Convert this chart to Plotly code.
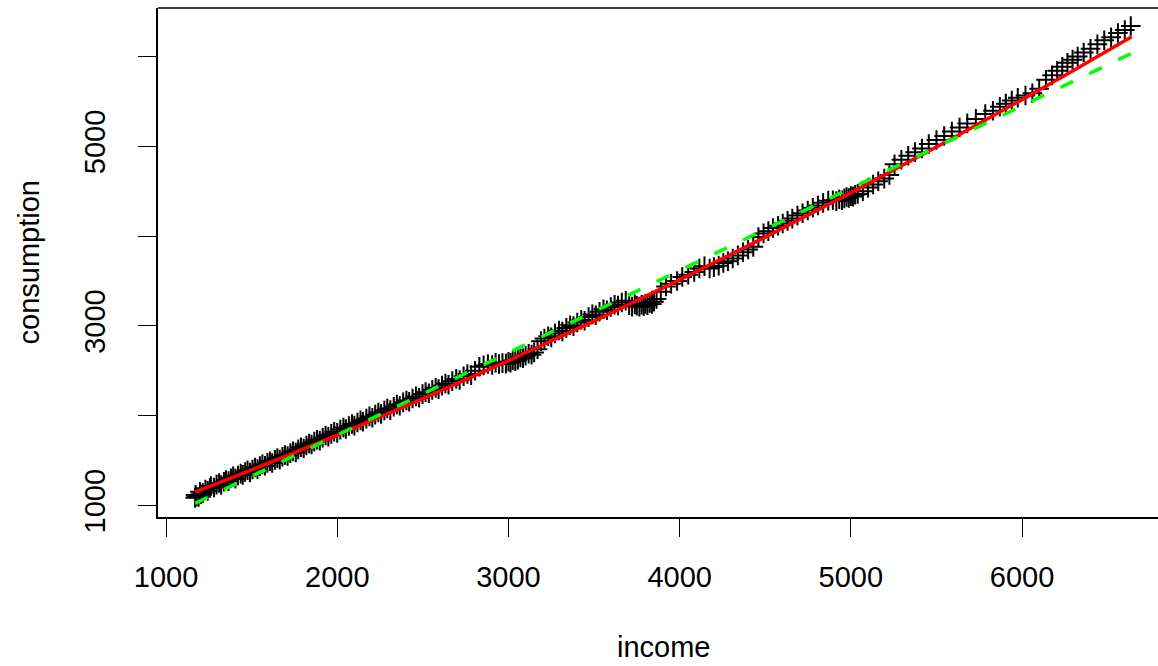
import plotly.graph_objects as go

# ---- scatter data (income, consumption) ----
income = [
    1170, 1178, 1172, 1190, 1204, 1198, 1215, 1230, 1243, 1256, 1262, 1280, 1295, 1310, 1322, 1338,
    1350, 1365, 1379, 1392, 1405, 1420, 1436, 1448, 1462, 1476, 1490, 1505, 1520, 1534, 1548, 1563,
    1578, 1592, 1607, 1620, 1636, 1650, 1664, 1680, 1695, 1710, 1726, 1742, 1758, 1772, 1788, 1804,
    1820, 1836, 1850, 1866, 1882, 1898, 1915, 1932, 1948, 1965, 1982, 2000,
    2018, 2036, 2050, 2068, 2086, 2100, 2118, 2136, 2150, 2170, 2188, 2205, 2222, 2240, 2256, 2275,
    2292, 2310, 2330, 2348, 2365, 2385, 2404, 2420, 2440, 2460, 2478, 2498, 2516, 2535, 2555, 2575,
    2592, 2612, 2632, 2650, 2672, 2695, 2715, 2738, 2760, 2782, 2805, 2830, 2855, 2880, 2905,
    2925, 2945, 2965, 2985, 3000, 3012, 3025, 3040, 3055, 3070, 3085, 3100, 3118, 3135, 3150, 3170,
    3190, 3210, 3232, 3250, 3272, 3295, 3315, 3338, 3360, 3380, 3402, 3425, 3445, 3468, 3490, 3510,
    3532, 3555, 3575, 3598, 3620, 3640, 3662, 3685,
    3705, 3722, 3738, 3750, 3765, 3778, 3790, 3800, 3812, 3825, 3838, 3850, 3865,
    3890, 3920, 3950, 3985, 4015, 4050, 4085, 4115, 4145,
    4175, 4200, 4228, 4255, 4282, 4310, 4340, 4370, 4400, 4430,
    4460, 4490, 4518, 4545, 4575, 4602, 4630, 4658, 4688, 4718, 4748, 4778, 4808, 4838, 4868,
    4895, 4915, 4932, 4948, 4962, 4975, 4988, 5000, 5012, 5025, 5040,
    5070, 5100, 5130, 5160, 5195, 5225,
    5255, 5295, 5335, 5375, 5415, 5455, 5500, 5545, 5590, 5635, 5680, 5730, 5785,
    5830, 5870, 5905, 5940, 5975, 6020, 6060, 6100,
    6140, 6175, 6205, 6235, 6265, 6295, 6325, 6360, 6400, 6440, 6480, 6520, 6560, 6600, 6635,
]
consumption = [
    1085, 1100, 1118, 1095, 1125, 1152, 1140, 1178, 1163, 1195, 1218, 1201, 1233, 1251, 1229, 1265,
    1283, 1271, 1303, 1325, 1299, 1333, 1355, 1341, 1373, 1393, 1368, 1401, 1423, 1405, 1439, 1458,
    1443, 1475, 1493, 1473, 1508, 1528, 1511, 1543, 1563, 1551, 1583, 1603, 1591, 1625, 1648, 1635,
    1668, 1691, 1679, 1711, 1733, 1723, 1755, 1779, 1765, 1798, 1821, 1809,
    1845, 1868, 1852, 1885, 1908, 1890, 1925, 1948, 1932, 1968, 1992, 1978, 2012, 2036, 2020, 2058,
    2080, 2062, 2100, 2124, 2110, 2148, 2170, 2155, 2192, 2215, 2200, 2240, 2262, 2250, 2288, 2310,
    2296, 2335, 2358, 2345, 2385, 2410, 2398, 2440, 2465, 2452, 2500, 2545, 2560, 2575, 2565,
    2590, 2575, 2585, 2580, 2600, 2590, 2615, 2608, 2625, 2650, 2640, 2668, 2690, 2680, 2705, 2740,
    2830, 2860, 2885, 2872, 2915, 2948, 2938, 2978, 3008, 2998, 3038, 3068, 3058, 3098, 3128, 3118,
    3158, 3185, 3175, 3210, 3235, 3228, 3260, 3280,
    3230, 3215, 3240, 3225, 3215, 3235, 3220, 3245, 3230, 3255, 3245, 3270, 3300,
    3380, 3440, 3470, 3500, 3545, 3570, 3600, 3640, 3665,
    3640, 3655, 3670, 3700, 3720, 3750, 3785, 3820, 3850, 3880,
    3990, 4030, 4055, 4090, 4115, 4140, 4170, 4195, 4230, 4255, 4285, 4315, 4340, 4370, 4395,
    4400, 4390, 4410, 4400, 4420, 4435, 4425, 4445, 4440, 4460, 4470,
    4500, 4540, 4575, 4610, 4640, 4680,
    4800, 4850, 4895, 4935, 4975, 5025, 5070, 5115, 5165, 5210, 5255, 5305, 5360,
    5395, 5440, 5475, 5510, 5540, 5565, 5590, 5640,
    5740, 5790, 5840, 5885, 5930, 5965, 6000, 6045, 6085, 6135, 6180, 6215, 6262, 6295, 6340,
]

# ---- fitted lines ----
curve_x = [1170, 1500, 2000, 2500, 3000, 3500, 4000, 4500, 5000, 5500, 6000, 6300, 6640]
curve_y = [1150, 1396, 1785, 2190, 2613, 3054, 3512, 3988, 4481, 4992, 5520, 5845, 6221]
linear_x = [1170, 6640]
linear_y = [1024, 6036]

# ---- axis ticks ----
x_ticks = [1000, 2000, 3000, 4000, 5000, 6000]
x_labels = ["1000", "2000", "3000", "4000", "5000", "6000"]
y_ticks = [1000, 2000, 3000, 4000, 5000, 6000]
y_labels = ["1000", "", "3000", "", "5000", ""]

FONT = "Liberation Sans, Arial, Helvetica, sans-serif"
FS = 29

fig = go.Figure()
fig.add_trace(go.Scatter(
    x=income, y=consumption, mode="markers",
    marker=dict(symbol="cross-thin", size=14, color="black",
                line=dict(width=2, color="black")),
    showlegend=False, hoverinfo="skip"))
fig.add_trace(go.Scatter(
    x=curve_x, y=curve_y, mode="lines",
    line=dict(color="#FF0000", width=3.5, shape="spline"),
    showlegend=False, hoverinfo="skip"))
fig.add_trace(go.Scatter(
    x=linear_x, y=linear_y, mode="lines",
    line=dict(color="#00FF00", width=3.5, dash="14px,18px"),
    showlegend=False, hoverinfo="skip"))

fig.update_layout(
    width=1158, height=666,
    margin=dict(l=158, r=0, t=8, b=149, autoexpand=False),
    paper_bgcolor="white", plot_bgcolor="white",
    font=dict(family=FONT, size=FS, color="black"),
    xaxis=dict(range=[953, 6794], tickvals=x_ticks, ticktext=x_labels,
               ticks="outside", ticklen=18, tickwidth=1.3, tickcolor="black",
               showline=True, linecolor="black", linewidth=1.5,
               showgrid=False, zeroline=False, ticklabelstandoff=15,
               automargin=False,
               tickfont=dict(family=FONT, size=FS)),
    yaxis=dict(range=[872, 6540], tickvals=y_ticks, ticktext=y_labels,
               tickangle=-90,
               ticks="outside", ticklen=18, tickwidth=1.3, tickcolor="black",
               showline=True, linecolor="black", linewidth=1.5,
               showgrid=False, zeroline=False, ticklabelstandoff=22,
               automargin=False,
               tickfont=dict(family=FONT, size=FS)),
    shapes=[
        dict(type="line", xref="paper", yref="paper", x0=0, x1=1, y0=1, y1=1,
             line=dict(color="black", width=1.5)),
    ],
    annotations=[
        dict(text="income", xref="paper", yref="paper", x=0.506, y=0,
             xanchor="center", yanchor="middle", yshift=-130, showarrow=False,
             font=dict(family=FONT, size=FS)),
        dict(text="consumption", xref="paper", yref="paper", x=-0.13, y=0.5,
             xanchor="center", yanchor="middle", textangle=-90, showarrow=False,
             font=dict(family=FONT, size=FS)),
    ],
)

fig.write_html(
    "out.html",
    config={"displayModeBar": False},
    post_script="document.body.style.margin='0px';document.body.style.overflow='hidden';",
)
